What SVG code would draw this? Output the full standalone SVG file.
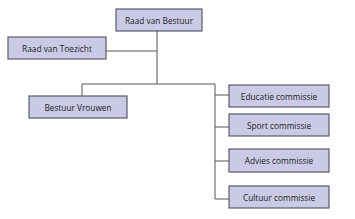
<svg xmlns="http://www.w3.org/2000/svg" width="355" height="219" viewBox="0 0 355 219">
<style>
.box{fill:#cacae6;stroke:#5a5a6a;stroke-width:1.2}
.lbl{font-family:"Open Sans","Noto Sans",sans-serif;font-size:8.3px;fill:#222;text-anchor:middle;dominant-baseline:central}
.con{fill:none;stroke:#555;stroke-width:1}
</style>
<rect width="355" height="219" fill="#fff"/>
<g id="connectors">
<path class="con" d="M157,31 V84"/>
<path class="con" d="M106,51 H157"/>
<path class="con" d="M82,84 H215 V199"/>
<path class="con" d="M82,84 V96"/>
<path class="con" d="M215,95 H229"/>
<path class="con" d="M215,127 H229"/>
<path class="con" d="M215,161 H229"/>
<path class="con" d="M215,199 H229"/>
</g>
<g id="raad-van-bestuur"><rect class="box" x="116" y="9" width="86" height="22"/><text class="lbl" x="159" y="20">Raad van Bestuur</text></g>
<g id="raad-van-toezicht"><rect class="box" x="8" y="37" width="98" height="22"/><text class="lbl" x="57" y="48">Raad van Toezicht</text></g>
<g id="bestuur-vrouwen"><rect class="box" x="29" y="96" width="98" height="22"/><text class="lbl" x="78" y="107">Bestuur Vrouwen</text></g>
<g id="educatie"><rect class="box" x="229" y="85" width="100" height="22"/><text class="lbl" x="279" y="96">Educatie commissie</text></g>
<g id="sport"><rect class="box" x="229" y="114" width="100" height="22"/><text class="lbl" x="279" y="125">Sport commissie</text></g>
<g id="advies"><rect class="box" x="229" y="149" width="100" height="23"/><text class="lbl" x="279" y="160.5">Advies commissie</text></g>
<g id="cultuur"><rect class="box" x="229" y="186" width="100" height="22"/><text class="lbl" x="279" y="197">Cultuur commissie</text></g>
</svg>
